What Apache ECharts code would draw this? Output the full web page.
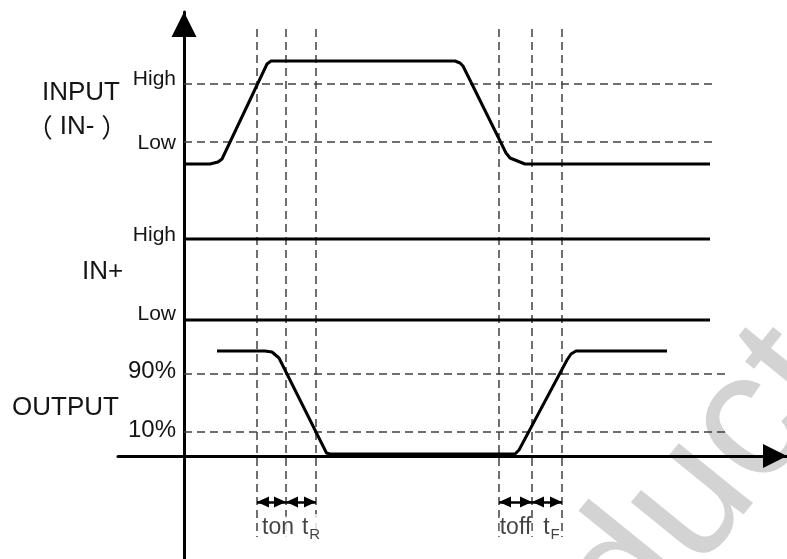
<!DOCTYPE html>
<html><head><meta charset="utf-8">
<script src="https://cdn.jsdelivr.net/npm/echarts@6/dist/echarts.min.js"></script>
<style>html,body{margin:0;padding:0;background:#fff}#c{width:787px;height:559px}</style>
</head><body><div id="c"></div>
<script>
// ---- data (time units / level units) ----
const eventTimes = [7.3, 10.2, 13.2, 31.5, 34.8, 37.8];
const inputTime  = [0, 2.6, 3.4, 3.8, 8.3, 8.7, 27.1, 27.6, 27.9, 32.2, 32.6, 34.1, 52.6];
const inputLevel = [29.2, 29.2, 29.4, 29.7, 39.2, 39.5, 39.5, 39.3, 39.0, 30.3, 29.8, 29.2, 29.2];
const inPlusLevels = [21.7, 13.6];
const inPlusSpan = [0, 52.6];
const outputTime  = [3.3, 8.1, 8.8, 9.5, 14.25, 14.6, 33.1, 33.5, 38.3, 38.7, 39.2, 48.3];
const outputLevel = [10.5, 10.5, 10.4, 9.8, 0.3, 0.2, 0.2, 0.6, 9.6, 10.2, 10.5, 10.5];
const levelValues = [37.2, 31.4, 21.7, 13.6, 8.2, 2.4];
const levelLabels = ['High', 'Low', 'High', 'Low', '90%', '10%'];
const inputGuides = [37.2, 31.4];
const inputGuideEnd = 53.3;
const outputGuides = [8.2, 2.4];
const outputGuideEnd = 54.5;
const eventSpan = [42.7, -8.1];
const intervalNames = ['ton', 'tR', 'toff', 'tF'];
const intervalStart = [7.3, 10.2, 31.5, 34.8];
const intervalEnd   = [10.2, 13.2, 34.8, 37.8];
const intervalLevel = -4.6;
const intervalLabelTime = [9.4, 12.7, 33.15, 36.75];
const intervalLabelLevel = -7.2;
const xRange = [-6.6, 60.3];
const yRange = [-10.3, 44.4];

// ---- build option ----
const FONT = '"Liberation Sans", Arial, "Noto Sans CJK SC", sans-serif';
const INK = '#141414';
const zip = (a, b) => a.map((v, i) => [v, b[i]]);
const traceStyle = { color: '#000', width: 3, join: 'round' };
const dashStyle = { color: '#404040', width: 1.5, type: [8, 5] };

const guideLines = [];
eventTimes.forEach(t => guideLines.push([{ coord: [t, eventSpan[0]] }, { coord: [t, eventSpan[1]] }]));
inputGuides.forEach(v => guideLines.push([{ coord: [0, v] }, { coord: [inputGuideEnd, v] }]));
outputGuides.forEach(v => guideLines.push([{ coord: [0, v] }, { coord: [outputGuideEnd, v] }]));

const intervalLines = intervalNames.map((n, i) => [
  { coord: [intervalStart[i], intervalLevel] }, { coord: [intervalEnd[i], intervalLevel] }
]);

const labelShift = [4.5, -1.5, 4, 5.5, 2.5, 2];
const labelSize = [21, 21, 21, 21, 24, 24];
const rich = {};
levelLabels.forEach((l, i) => {
  const s = labelShift[i];
  rich['s' + i] = {
    fontSize: labelSize[i], fontFamily: FONT, color: INK,
    padding: s >= 0 ? [0, 0, 2 * s, 0] : [-2 * s, 0, 0, 0]
  };
});

const richT = {
  a: { fontSize: 23, fontFamily: FONT, color: INK, lineHeight: 26, backgroundColor: '#fff' },
  b: { fontSize: 15, fontFamily: FONT, color: INK, lineHeight: 26, padding: [13, 0, 0, 1], backgroundColor: '#fff' }
};
const labelText = n => n.length === 2 ? `{a|${n[0]}}{b|${n[1]}}` : `{a|${n}}`;

const option = {
  animation: false,
  backgroundColor: '#fff',
  grid: { left: 118, right: 0, top: 12, bottom: 0, containLabel: false },
  xAxis: {
    type: 'value', min: xRange[0], max: xRange[1],
    axisLine: { show: true, onZero: true, symbol: ['none', 'triangle'], symbolSize: [24, 24], symbolOffset: [0, -12],
      lineStyle: { color: '#000', width: 3 } },
    axisTick: { show: false }, axisLabel: { show: false }, splitLine: { show: false }
  },
  yAxis: {
    type: 'value', min: yRange[0], max: yRange[1],
    axisLine: { show: true, onZero: true, symbol: ['none', 'triangle'], symbolSize: [25, 25], symbolOffset: [0, -12.5],
      lineStyle: { color: '#000', width: 3 } },
    axisTick: { show: false }, splitLine: { show: false },
    axisLabel: {
      show: true, customValues: levelValues, margin: -58,
      formatter: v => { const i = levelValues.indexOf(v); return `{s${i}|${levelLabels[i]}}`; },
      rich
    }
  },
  graphic: [
    { type: 'text', x: 42, y: 93, z: 10, style: { text: 'INPUT', font: '26px ' + FONT, fill: INK, verticalAlign: 'middle' } },
    { type: 'text', x: 77, y: 127, z: 10, style: { text: '{p|（}{q|IN-}{p|）}', fill: INK, align: 'center', verticalAlign: 'middle',
      rich: { p: { font: '26px "Noto Sans CJK SC"', fill: INK }, q: { font: '26px "Liberation Sans"', fill: INK, padding: [0, 7, 0, 7] } } } },
    { type: 'text', x: 82, y: 272, z: 10, style: { text: 'IN+', font: '26px ' + FONT, fill: INK, verticalAlign: 'middle' } },
    { type: 'text', x: 12, y: 408, z: 10, style: { text: 'OUTPUT', font: '26px ' + FONT, fill: INK, verticalAlign: 'middle' } },
    { type: 'text', x: 880, y: 410, rotation: 0.89, z: -10, silent: true,
      style: { text: 'Product', font: '180px ' + FONT, fill: '#d3d3d3', align: 'right', verticalAlign: 'bottom' } }
  ],
  series: [
    { type: 'line', data: [], z: 1, silent: true,
      markLine: { silent: true, animation: false, symbol: ['none', 'none'], label: { show: false },
        lineStyle: dashStyle, emphasis: { disabled: true }, data: guideLines } },
    { type: 'line', data: zip(inputTime, inputLevel), symbol: 'none', lineStyle: traceStyle, z: 5, silent: true },
    ...inPlusLevels.map(v => ({ type: 'line', data: inPlusSpan.map(t => [t, v]), symbol: 'none', lineStyle: traceStyle, z: 5, silent: true })),
    { type: 'line', data: zip(outputTime, outputLevel), symbol: 'none', lineStyle: traceStyle, z: 5, silent: true },
    { type: 'line', data: [], z: 6, silent: true,
      markLine: { silent: true, animation: false, symbol: ['triangle', 'triangle'], symbolSize: [11, 12],
        symbolOffset: [[0, 6], [0, 6]], label: { show: false },
        lineStyle: { color: '#000', width: 2.5, type: 'solid' }, emphasis: { disabled: true }, data: intervalLines } },
    { type: 'scatter', symbolSize: 0, silent: true, z: 7,
      data: intervalNames.map((n, i) => ({ name: n, value: [intervalLabelTime[i], intervalLabelLevel] })),
      label: { show: true, position: 'inside', formatter: p => labelText(p.name), rich: richT } }
  ]
};
const chart = echarts.init(document.getElementById('c'), null, { renderer: 'canvas' });
chart.setOption(option);
</script>
</body></html>
